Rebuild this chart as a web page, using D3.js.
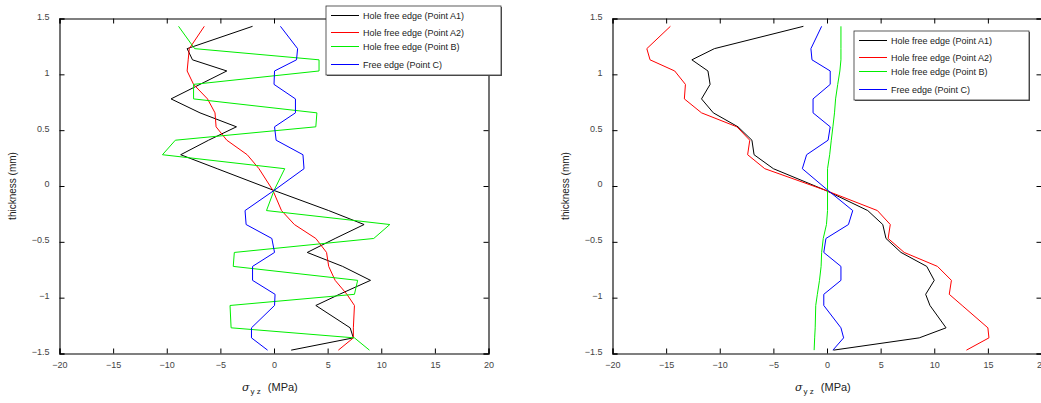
<!DOCTYPE html>
<html>
<head>
<meta charset="utf-8">
<script src="https://cdn.jsdelivr.net/npm/d3@7"></script>
<style>
  body { margin: 0; background: #fff; }
  svg { display: block; font-family: "Liberation Sans", Arial, sans-serif; }
  .tick text { fill: #444; font-size: 9px; }
</style>
</head>
<body>
<svg width="1041" height="403"></svg>
<script>
// thickness positions (mm) where the stresses were sampled
var thickness = [1.43, 1.23, 1.13, 1.03, 0.91, 0.78, 0.655, 0.53, 0.41, 0.28, 0.155, -0.04,
  -0.22, -0.345, -0.47, -0.595, -0.72, -0.845, -0.97, -1.07, -1.27, -1.36, -1.47];

var seriesNames = ["Hole free edge (Point A1)", "Hole free edge (Point A2)", "Hole free edge (Point B)", "Free edge (Point C)"];
var seriesColors = ["#000000", "#ff0000", "#00ee00", "#0000ff"];

// left chart, sigma_yz (MPa)
var leftA1 = [-2.0, -8.1, -7.6, -4.4, -6.9, -9.6, -6.9, -3.5, -6.1, -8.7, -5.3, 0.0,
  5.1, 8.4, 5.7, 3.1, 6.4, 9.0, 6.1, 3.9, 7.1, 7.4, 1.6];
var leftA2 = [-6.5, -7.9, -8.0, -8.1, -7.5, -6.2, -5.5, -5.4, -4.4, -2.5, -1.4, -0.1,
  0.7, 1.9, 3.9, 4.9, 5.1, 5.7, 6.8, 7.5, 7.4, 7.4, 6.0];
var leftB = [-8.9, -7.4, 4.2, 4.2, -7.5, -7.5, 4.0, 3.9, -9.2, -10.4, 1.0, 0.0,
  -0.7, 10.8, 9.3, -3.7, -3.8, 7.8, 7.5, -4.1, -4.0, 7.5, 8.9];
var leftC = [0.6, 2.2, 2.1, 0.05, 0.0, 2.0, 2.0, 0.05, 0.2, 2.7, 2.8, 0.0,
  -2.7, -2.6, -0.2, 0.05, -2.0, -2.0, 0.1, 0.05, -2.1, -2.1, -0.6];

// right chart, sigma_yz (MPa)
var rightA1 = [-2.2, -10.5, -12.6, -11.1, -10.9, -11.7, -10.6, -8.3, -7.0, -6.8, -5.0, -0.1,
  3.8, 5.2, 5.5, 6.9, 9.3, 10.0, 9.2, 9.6, 11.1, 8.6, 0.6];
var rightA2 = [-14.6, -16.8, -16.5, -14.2, -13.2, -13.3, -11.7, -8.4, -7.2, -7.4, -5.8, -0.1,
  4.7, 5.9, 5.7, 7.2, 10.3, 11.6, 11.4, 12.6, 15.0, 15.1, 13.0];
var rightB = [1.3, 1.3, 1.3, 1.2, 1.0, 0.8, 0.7, 0.55, 0.4, 0.25, 0.05, 0.05,
  0.05, -0.05, -0.35, -0.5, -0.55, -0.7, -0.9, -1.05, -1.1, -1.15, -1.2];
var rightC = [-0.5, -1.5, -1.4, 0.3, 0.3, -1.3, -1.3, 0.3, 0.1, -1.9, -2.3, 0.1,
  2.4, 2.0, -0.1, -0.3, 1.3, 1.3, -0.3, -0.3, 1.3, 1.55, 0.55];

var xTicks = [-20, -15, -10, -5, 0, 5, 10, 15, 20];
var yTicks = [-1.5, -1, -0.5, 0, 0.5, 1, 1.5];

var svg = d3.select("svg");

function drawPanel(left, series, legendPos) {
  var top = 18.5, bottom = 353.5, w = 429;
  var x = d3.scaleLinear().domain([-20, 20]).range([left, left + w]);
  var y = d3.scaleLinear().domain([-1.5, 1.5]).range([bottom, top]);
  var g = svg.append("g");

  // axes, ticks pointing inwards on all four sides
  g.append("g").attr("transform", "translate(0," + bottom + ")")
    .call(d3.axisBottom(x).tickValues(xTicks).tickSize(-5).tickPadding(8).tickFormat(d3.format("d")));
  g.append("g").attr("transform", "translate(0," + top + ")")
    .call(d3.axisTop(x).tickValues(xTicks).tickSize(-5).tickFormat(""));
  g.append("g").attr("transform", "translate(" + left + ",0)")
    .call(d3.axisLeft(y).tickValues(yTicks).tickSize(-5).tickPadding(10).tickFormat(d3.format("")));
  g.append("g").attr("transform", "translate(" + (left + w) + ",0)")
    .call(d3.axisRight(y).tickValues(yTicks).tickSize(-5).tickFormat(""));
  g.selectAll(".domain").attr("stroke", "#000").attr("stroke-width", 1.1);
  g.selectAll(".tick line").attr("stroke", "#000");
  g.selectAll(".tick text").filter(function() { return this.getAttribute("x") < 0; }).attr("dy", "0.1em");

  var line = d3.line()
    .x(function(d) { return x(d[0]); })
    .y(function(d) { return y(d[1]); });

  series.forEach(function(vals, i) {
    g.append("path")
      .datum(vals.map(function(v, k) { return [v, thickness[k]]; }))
      .attr("fill", "none")
      .attr("stroke", seriesColors[i])
      .attr("stroke-width", 1)
      .attr("d", line);
  });

  // axis titles
  g.append("text")
    .attr("transform", "translate(" + (left - 44) + "," + ((top + bottom) / 2) + ") rotate(-90)")
    .attr("text-anchor", "middle")
    .attr("fill", "#222")
    .style("font-size", "10px")
    .text("thickness (mm)");

  var xl = g.append("text")
    .attr("x", left + w / 2 - 32)
    .attr("y", 391)
    .attr("fill", "#222")
    .style("font-size", "11px");
  xl.append("tspan").style("font-family", "'DejaVu Serif', serif").style("font-style", "italic").text("σ");
  xl.append("tspan").attr("dy", 3).attr("dx", 1).style("font-size", "8px").text("y z");
  xl.append("tspan").attr("dy", -3).text("  (MPa)").attr("dx", 4);

  // legend
  var lg = g.append("g").attr("transform", "translate(" + legendPos[0] + "," + legendPos[1] + ")");
  lg.append("rect").attr("x", 1).attr("y", 1).attr("width", 175).attr("height", 69).attr("fill", "#555");
  lg.append("rect").attr("width", 175).attr("height", 69)
    .attr("fill", "#fff").attr("stroke", "#333").attr("stroke-width", 0.8);
  var rows = [9.5, 26.5, 40.5, 58.5];
  seriesNames.forEach(function(name, i) {
    lg.append("line").attr("x1", 5).attr("x2", 33).attr("y1", rows[i]).attr("y2", rows[i])
      .attr("stroke", seriesColors[i]).attr("stroke-width", 1);
    lg.append("text").attr("x", 37).attr("y", rows[i]).attr("dy", "0.35em")
      .attr("fill", "#222").style("font-size", "9px").text(name);
  });
}

drawPanel(59.5, [leftA1, leftA2, leftB, leftC], [326, 6]);
drawPanel(612.5, [rightA1, rightA2, rightB, rightC], [854, 31]);
</script>
</body>
</html>
